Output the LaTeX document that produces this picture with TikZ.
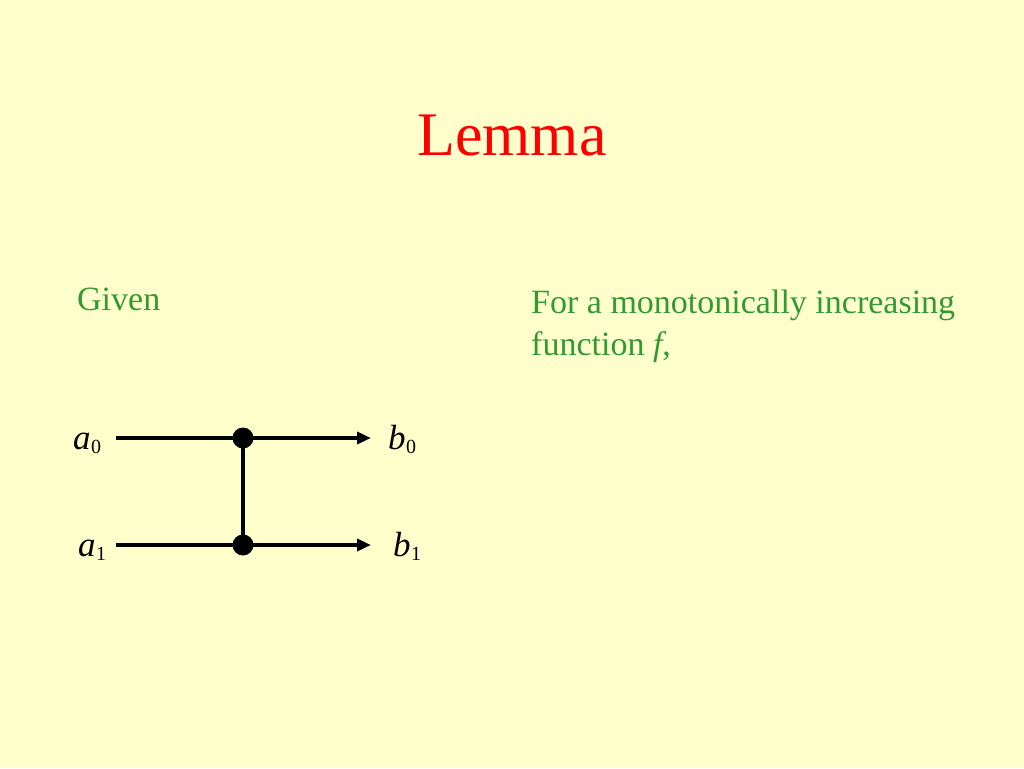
\documentclass[tikz,border=0pt]{standalone}
\usepackage{fontspec}
\setmainfont{Liberation Serif}
\usetikzlibrary{arrows.meta}
\definecolor{bg}{HTML}{FFFFCC}
\definecolor{txtgreen}{HTML}{339933}
\newcommand{\lab}[2]{\textit{#1}\kern0.5pt\raisebox{-4pt}{\fontsize{20}{20}\selectfont #2}}
\begin{document}
\begin{tikzpicture}[x=1pt,y=-1pt,
  wire/.style={line width=4pt,-{Triangle[length=14pt,width=12pt]}},
  dotn/.style={circle,fill=black,inner sep=0pt,minimum size=21pt},
  lbl/.style={font=\fontsize{35}{35}\selectfont,inner sep=0pt},
  gtext/.style={text=txtgreen,font=\fontsize{34}{42}\selectfont,inner sep=0pt,anchor=base west,align=left}]
\fill[bg] (0,0) rectangle (1024,768);
\useasboundingbox (0,0) rectangle (1024,768);
\node[text=red,font=\fontsize{62}{62}\selectfont,inner sep=0pt,anchor=base] (title) at (512,155) {Lemma};
\node[gtext] (given) at (77,310) {Given};
\node[gtext] (desc) at (531,355) {For a monotonically increasing\\function \textit{f},};
\node[lbl,anchor=base west] (a0) at (73,449) {\lab{a}{0}};
\node[lbl,anchor=base west] (a1) at (78,556) {\lab{a}{1}};
\node[lbl,anchor=base west] (b0) at (388,449) {\lab{b}{0}};
\node[lbl,anchor=base west] (b1) at (393,556) {\lab{b}{1}};
\coordinate (s0) at (116,438);
\coordinate (s1) at (116,545);
\coordinate (e0) at (371,438);
\coordinate (e1) at (371,545);
\node[dotn] (d0) at (243,438) {};
\node[dotn] (d1) at (243,545) {};
\draw[wire] (s0) -- (e0);
\draw[wire] (s1) -- (e1);
\draw[line width=4pt] (d0.center) -- (d1.center);
\end{tikzpicture}
\end{document}
